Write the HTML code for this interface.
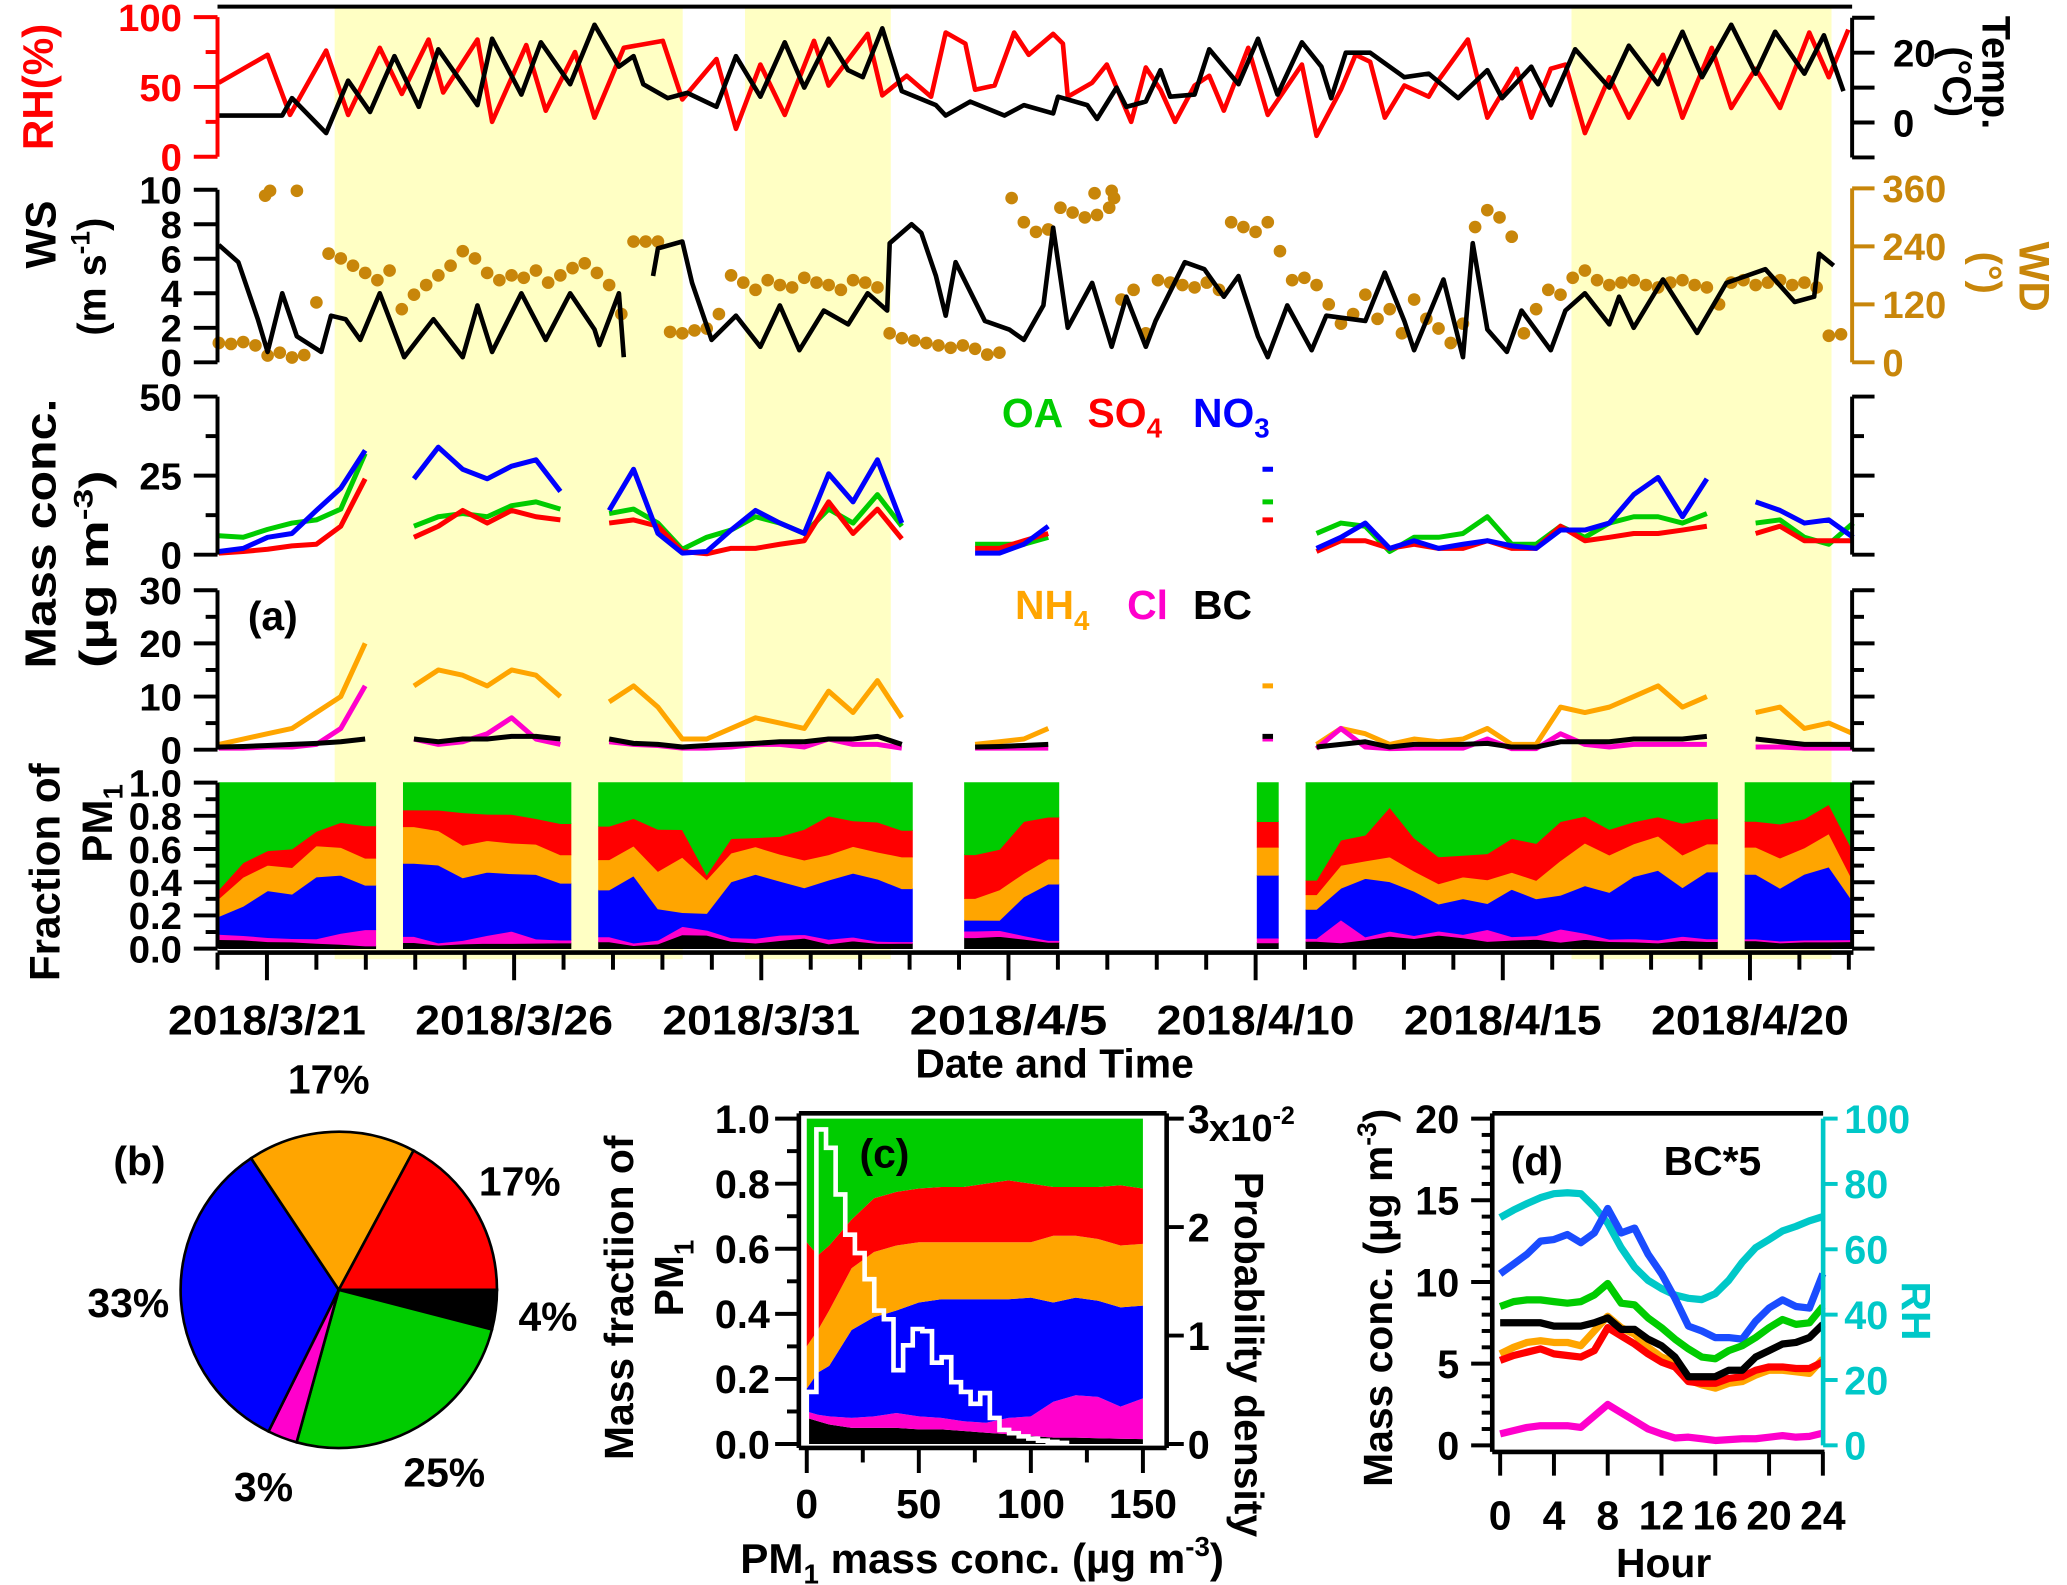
<!DOCTYPE html>
<html><head><meta charset="utf-8"><style>
html,body{margin:0;padding:0;background:#fff;}
svg{display:block;font-family:"Liberation Sans",Arial,sans-serif;font-weight:bold;}
</style></head><body>
<svg id="fig" width="2067" height="1585" viewBox="0 0 1568 1203" preserveAspectRatio="none" xmlns="http://www.w3.org/2000/svg">
<g id="shade"></g>
<g id="marks"></g>
<g id="axes" stroke="#000" stroke-width="3" fill="none"></g>
<g id="labels" font-size="29">
  <text transform="translate(40,66) rotate(-90)" text-anchor="middle" fill="#ff0000" font-size="32">RH(%)</text>
  <text transform="translate(1504,55) rotate(90)" text-anchor="middle" font-size="30">Temp.</text>
  <text transform="translate(1474,62) rotate(90)" text-anchor="middle" font-size="30">(°C)</text>
  <text transform="translate(42,178) rotate(-90)" text-anchor="middle" font-size="32">WS</text>
  <text transform="translate(80,210) rotate(-90)" text-anchor="middle" font-size="30">(m s<tspan font-size="20" dy="-12">-1</tspan><tspan dy="12">)</tspan></text>
  <text transform="translate(1532,210) rotate(90)" text-anchor="middle" fill="#c8860a" font-size="32">WD</text>
  <text transform="translate(1497,207) rotate(90)" text-anchor="middle" fill="#c8860a" font-size="30">(°)</text>
  <text transform="translate(42,405) rotate(-90)" text-anchor="middle" font-size="33" textLength="205" lengthAdjust="spacingAndGlyphs">Mass conc.</text>
  <text transform="translate(82,432) rotate(-90)" text-anchor="middle" font-size="31" textLength="150" lengthAdjust="spacingAndGlyphs">(µg m<tspan font-size="20" dy="-12">-3</tspan><tspan dy="12">)</tspan></text>
  <text transform="translate(45,662) rotate(-90)" text-anchor="middle" font-size="32">Fraction of</text>
  <text transform="translate(85,625) rotate(-90)" text-anchor="middle" font-size="32">PM<tspan font-size="21" dy="8">1</tspan></text>
  <text x="760" y="324" fill="#00cc00" font-size="31">OA</text>
  <text x="825" y="324" fill="#ff0000" font-size="31">SO<tspan font-size="21" dy="8">4</tspan></text>
  <text x="905" y="324" fill="#0000ff" font-size="31">NO<tspan font-size="21" dy="8">3</tspan></text>
  <text x="770" y="470" fill="#ffa500" font-size="31">NH<tspan font-size="21" dy="8">4</tspan></text>
  <text x="855" y="470" fill="#ff00cc" font-size="31">Cl</text>
  <text x="905" y="470" fill="#000" font-size="31">BC</text>
  <text x="188" y="478" font-size="31">(a)</text>
  <text x="800" y="818" text-anchor="middle" font-size="31">Date and Time</text>
  <text x="86" y="892" font-size="31">(b)</text>
  <text x="652" y="886" font-size="31">(c)</text>
  <text transform="translate(480,985) rotate(-90)" text-anchor="middle" font-size="31">Mass fractiion of</text>
  <text transform="translate(518,970) rotate(-90)" text-anchor="middle" font-size="31">PM<tspan font-size="21" dy="8">1</tspan></text>
  <text transform="translate(937,1028) rotate(90)" text-anchor="middle" font-size="31">Probability density</text>
  <text x="917" y="866" font-size="29">x10<tspan font-size="19" dy="-13">-2</tspan></text>
  <text x="745" y="1194" text-anchor="middle" font-size="32">PM<tspan font-size="21" dy="8">1</tspan><tspan dy="-8"> mass conc. (µg m</tspan><tspan font-size="21" dy="-13">-3</tspan><tspan dy="13">)</tspan></text>
  <text x="1146" y="892" font-size="31">(d)</text>
  <text x="1262" y="892" font-size="31">BC*5</text>
  <text transform="translate(1056,985) rotate(-90)" text-anchor="middle" font-size="31">Mass conc. (µg m<tspan font-size="20" dy="-12">-3</tspan><tspan dy="12">)</tspan></text>
  <text transform="translate(1443,995) rotate(90)" text-anchor="middle" fill="#00c8c8" font-size="31">RH</text>
  <text x="1262" y="1197" text-anchor="middle" font-size="31">Hour</text>
</g>
</svg>
<script>
const rhTime = [0,1,1.46,2.2,2.65,3.3,3.75,4.3,4.6,5.3,5.6,6.3,6.7,7.3,7.7,8.3,9.1,9.5,
 10.2,10.6,11.1,11.6,12.2,12.5,13.3,13.6,14.1,14.6,14.9,15.3,15.5,15.9,16.3,16.6,17.1,17.3,17.4,17.9,18.2,18.7,19.0,19.3,19.6,20.0,20.3,20.6,21.1,21.5,22.2,22.5,23.0,23.3,
 23.6,23.9,24.3,24.8,25.0,25.6,26.0,26.6,26.9,27.3,27.6,28.0,28.5,28.9,29.6,30.0,30.6,31.0,31.5,32.0,32.6,33.0,33.4];
const rhValues = [53,73,30,76,30,78,45,84,46,84,25,80,33,75,28,78,83,41,
 70,20,66,30,83,51,88,44,58,43,89,81,48,51,89,73,88,81,43,53,66,25,64,48,25,51,58,33,78,30,66,15,48,73,
 68,28,51,43,55,84,28,63,28,63,66,17,57,28,73,28,78,35,63,35,89,57,91];
const tempTime = [0,1.3,1.5,2.2,2.65,3.1,3.6,4.1,4.5,5.3,5.6,6.2,6.6,7.2,7.7,8.2,8.5,8.7,9.2,9.6,
 10.2,10.6,11.1,11.6,12.0,12.5,12.9,13.2,13.6,14.0,14.7,14.9,15.4,16.1,16.5,17.1,17.2,17.8,18.0,18.4,18.6,19.0,19.3,19.5,20.0,20.3,20.9,21.3,21.7,22.2,22.6,22.8,23.1,
 23.6,24.3,24.8,25.4,26.0,26.3,26.9,27.3,27.8,28.5,28.9,29.5,30.0,30.4,31.0,31.5,31.9,32.5,32.9,33.3];
const tempValues = [2,2,7,-3,12,3,19,4.5,21,5,24,8,23,11,28,16,19,11,7,8.5,
 4.5,19,7.4,23,10,24,15,13,27,9,5,2,6,2,5,2.6,7.4,5,1,10,4.5,6,15,7.4,8,21,11,24,8,23,16,7,20,
 20,13,14,7,15,7,16,5,21,10,22,11,26,13,28,14,26,14,25,9];
const wsTime = [0,0.4,0.8,1.0,1.3,1.6,2.1,2.3,2.6,2.9,3.3,3.8,4.4,5.0,5.3,5.6,6.2,6.7,7.2,7.7,7.8,8.2,8.3,8.6,8.9,9.0,9.5,9.7,10.1,10.6,
 11.1,11.5,11.9,12.4,12.9,13.3,13.7,13.75,14.2,14.4,14.7,14.9,15.1,15.7,16.2,16.5,16.9,17.1,17.4,17.9,18.3,18.6,19.0,19.2,19.8,20.2,20.6,20.9,21.3,21.5,
 21.9,22.4,22.7,23.5,23.9,24.3,24.5,25.1,25.5,25.7,26.0,26.4,26.7,27.3,27.6,28.0,28.5,28.7,29.0,29.6,30.3,30.9,31.7,32.3,32.7,32.8,33.1];
const wsValues = [6.8,5.8,2.5,0.6,4,1.5,0.6,2.7,2.5,1.3,4,0.3,2.5,0.3,3.3,0.6,4,1.3,4,1.9,1,4,0.3,null,5,6.6,7,4.6,1.3,2.7,
 0.9,3.3,0.7,3,2.2,4,3,6.9,8,7.5,5,2.7,5.8,2.4,1.9,1.3,3.3,7.8,2,4.6,0.9,3.8,0.9,2.4,5.8,5.4,3.8,5,1.5,0.3,
 3.3,0.7,2.7,2.4,5.2,2.4,0.7,4.8,0.3,6.9,1.9,0.6,3,0.7,3,4,2.2,3.8,2,4.8,1.7,4.6,5.4,3.5,3.8,6.3,5.6];
const wdStep = 0.25;
const wdValues = [40,38,42,35,14,20,10,15,124,225,215,200,185,170,190,110,140,160,180,200,230,215,185,170,180,175,190,165,180,195,205,185,160,100,250,250,250,63,60,66,
 70,100,180,165,150,170,160,155,175,165,160,150,170,165,155,60,50,45,40,35,30,35,28,16,20,340,290,270,275,320,310,300,305,320,130,150,60,170,165,160,
 155,165,150,290,280,270,290,230,170,175,160,120,80,100,140,90,110,60,130,90,70,40,80,280,315,300,260,60,110,150,140,175,190,170,160,165,170,160,155,165,
 170,160,155,120,165,170,160,165,170,160,165,155,55,58];
const wdExtraTime = [0.95,1.05,1.6,18.3,18.35,17.95];
const wdExtraValues = [345,355,355,355,340,350];
const aeroStep = 0.5;
const oaValues = [6,5.5,8,10,11,14.4,32,null,9,12,13,12,15.5,16.7,14.4,null,13,14.4,10,1.7,5.5,7.8,12,10,6.7,14.4,10,19,9,null,null,3.3,3.3,3.3,5.5,null,null,null,null,null,null,null,null,16.7,null,6.7,10,9,1,5.5,5.5,6.7,12,3.3,3.3,9,5.5,10,12,12,10,13,null,10,11,5.5,3.3,10];
const so4Values = [0.5,1,1.7,2.8,3.3,9,24,null,5.5,9,14,10,14,12,11,null,10,11,9,1,0.3,2,2,3.3,4.4,16.7,6.7,14.4,5,null,null,2,2,4.4,6.7,null,null,null,null,null,null,null,null,11,null,1,4.4,4.4,2,3.3,2,2,4.4,2,2,9,4.4,5.5,6.7,6.7,7.8,9,null,6.7,9,4.4,4.4,4.4];
const no3Values = [1,2,5.5,6.7,14,21,33,null,24,34,27,24,28,30,20,null,14,27,6.7,0.5,1,7.8,14,10,6.7,25.6,16.7,30,10,null,null,0.5,0.5,3.3,9,null,null,null,null,null,null,null,null,27,null,2,5.5,10,2,4.4,2,3.3,4.4,2.8,2,7.8,7.8,10,19,24.4,12,24,null,16.7,14,10,11,5.5];
const nh4Values = [1,2,3,4,7,10,20,null,12,15,14,12,15,14,10,null,9,12,8,2,2,4,6,5,4,11,7,13,6,null,null,1,1.5,2,4,null,null,null,null,null,null,null,null,12,null,1,4,3,1,2,1.5,2,4,1,1,8,7,8,10,12,8,10,null,7,8,4,5,3];
const clValues = [0.3,0.3,0.5,0.5,1,4,12,null,2,1,1.5,3,6,2,1,null,1.5,1,0.8,0.3,0.3,0.5,1,1,0.5,2,1,1,0.3,null,null,0.3,0.3,0.3,0.3,null,null,null,null,null,null,null,null,2,null,0.2,4,0.5,0.2,0.3,0.3,0.3,2,0.2,0.2,3,1,0.5,1,1,1,1,null,0.5,0.5,0.3,0.3,0.3];
const bcValues = [0.5,0.6,0.8,1,1.2,1.5,2,null,2,1.5,2,2,2.5,2.5,2,null,2,1.2,1,0.5,0.8,1,1.2,1.5,1.5,2,2,2.5,1,null,null,0.5,0.6,0.8,1,null,null,null,null,null,null,null,null,2.5,null,0.5,1,1.5,0.5,1,1,1,1.2,0.5,0.5,1.5,1.5,1.5,2,2,2,2.5,null,2,1.5,1,1,1];
const shadeStart = [2.37, 10.67, 27.39];
const shadeEnd = [9.41, 13.62, 32.65];
const dateTickDays = [1,6,11,16,21,26,31];
const dateTickLabels = ['2018/3/21','2018/3/26','2018/3/31','2018/4/5','2018/4/10','2018/4/15','2018/4/20'];
const pieLabels = ['BC','OA','Cl','NO3','NH4','SO4'];
const pieValues = [4,25,3,33,17,17];
const pmBins = [0,5,10,20,30,40,50,60,70,80,90,100,110,120,130,140,150];
const cBC  = [0.08,0.07,0.06,0.05,0.05,0.05,0.045,0.045,0.04,0.035,0.03,0.025,0.02,0.02,0.018,0.016,0.015];
const cCl  = [0.02,0.02,0.025,0.03,0.035,0.045,0.04,0.035,0.03,0.03,0.05,0.06,0.11,0.13,0.127,0.099,0.125];
const cNO3 = [0.07,0.13,0.155,0.27,0.305,0.315,0.35,0.365,0.375,0.38,0.365,0.365,0.305,0.3,0.295,0.305,0.285];
const cNH4 = [0.13,0.13,0.17,0.19,0.2,0.2,0.185,0.175,0.175,0.175,0.175,0.17,0.205,0.19,0.19,0.19,0.19];
const cSO4 = [0.32,0.23,0.2,0.15,0.165,0.165,0.165,0.17,0.17,0.18,0.19,0.18,0.15,0.15,0.16,0.185,0.17];
const histWidth = 4.3;
const histDensity = [0.48,2.9,2.73,2.3,1.93,1.76,1.52,1.23,1.15,0.68,0.91,1.06,1.04,0.75,0.8,0.57,0.48,0.37,0.47,0.24,0.13,0.1,0.07,0.05,0.03,0.02,0.01];
const hours = [0,1,2,3,4,5,6,7,8,9,10,11,12,13,14,15,16,17,18,19,20,21,22,23,24];
const dNO3 = [10.5,11.1,11.7,12.5,12.6,12.9,12.4,13,14.5,13,13.3,11.7,10.5,9,7.3,7,6.6,6.6,6.5,7.6,8.4,8.9,8.5,8.4,10.5];
const dOA  = [8.5,8.8,8.9,8.9,8.8,8.7,8.8,9.2,9.9,8.7,8.6,7.8,7.2,6.5,5.9,5.4,5.3,5.8,6.1,6.6,7.2,7.7,7.4,7.5,8.5];
const dBC5 = [7.5,7.5,7.5,7.5,7.3,7.3,7.3,7.5,7.8,7.1,7.1,6.5,6.1,5.4,4.2,4.2,4.2,4.6,4.6,5.4,5.8,6.2,6.3,6.6,7.4];
const dNH4 = [5.6,6,6.3,6.4,6.3,6.3,6.1,7,7.9,7.2,6.8,6,5.4,5.1,4,3.7,3.5,3.8,3.9,4.3,4.6,4.6,4.5,4.4,5.3];
const dSO4 = [5.2,5.5,5.7,5.9,5.6,5.5,5.4,5.8,7.2,6.7,6.2,5.6,5.1,4.8,3.9,3.8,3.8,4.1,4.2,4.6,4.8,4.8,4.7,4.7,5.1];
const dCl  = [0.7,0.9,1.1,1.2,1.2,1.2,1.1,1.8,2.5,2,1.5,1,0.7,0.45,0.5,0.4,0.3,0.35,0.4,0.4,0.5,0.6,0.5,0.55,0.75];
const dRH  = [69.7,72,74,75.8,77,77.3,77,73,68,60.5,54.5,50.5,48,46,45,44.6,46.4,50.5,56,60.5,63,65.6,67,68.7,70];

const NS = 'http://www.w3.org/2000/svg';
function mk(tag, attrs, parent) {
  const e = document.createElementNS(NS, tag);
  for (const k in attrs) e.setAttribute(k, attrs[k]);
  parent.appendChild(e);
  return e;
}
const gShade = document.getElementById('shade');
const gMarks = document.getElementById('marks');
const gAxes = document.getElementById('axes');
const gLab = document.getElementById('labels');

const X = t => 166 + 37.01 * t;
const xDay = d => 165 + 37.5 * d;
const yRH = v => 119 - v * 1.06;
const yT = v => 93 - v * 2.65;
const yWS = v => 275 - v * 13.1;
const yWD = v => 275 - v * (132 / 360);
const yUp = v => 421 - v * 2.4;
const yLo = v => 569 - v * (121 / 30);
const yFr = v => 720 - v * 126;

function linePath(ts, vs, xf, yf) {
  let d = '', pen = false;
  for (let i = 0; i < vs.length; i++) {
    const v = vs[i];
    if (v === null || v === undefined) { pen = false; continue; }
    const x = xf(ts[i]), y = yf(v);
    const nextNull = (i + 1 >= vs.length) || vs[i + 1] === null;
    if (!pen && nextNull) { d += `M${(x-4).toFixed(1)},${y.toFixed(1)}L${(x+4).toFixed(1)},${y.toFixed(1)}`; continue; }
    d += (pen ? 'L' : 'M') + x.toFixed(1) + ',' + y.toFixed(1);
    pen = true;
  }
  return d;
}

for (let i = 0; i < shadeStart.length; i++) {
  const r = mk('rect', {x: xDay(shadeStart[i]), y: 6, width: xDay(shadeEnd[i]) - xDay(shadeStart[i]), height: 722, fill: '#ffffc4'}, gShade);
  
  
}

const rhLine = mk('path', {d: linePath(rhTime, rhValues, X, yRH), stroke: '#ff0000', 'stroke-width': 3.5, fill: 'none', 'stroke-linejoin': 'round'}, gMarks);


const tLine = mk('path', {d: linePath(tempTime, tempValues, X, yT), stroke: '#000', 'stroke-width': 3.5, fill: 'none', 'stroke-linejoin': 'round'}, gMarks);



const wdGroup = mk('g', {fill: '#c8860a'}, gMarks);


for (let i = 0; i < wdValues.length; i++) {
  const c = mk('circle', {cx: X(i * wdStep), cy: yWD(wdValues[i]), r: 4.8}, wdGroup);
  
  
}
for (let i = 0; i < wdExtraValues.length; i++) {
  const c = mk('circle', {cx: X(wdExtraTime[i]), cy: yWD(wdExtraValues[i]), r: 4.8}, wdGroup);
  
  
}
const wsLine = mk('path', {d: linePath(wsTime, wsValues, X, yWS), stroke: '#000', 'stroke-width': 3.5, fill: 'none', 'stroke-linejoin': 'round'}, gMarks);



const aeroTime = oaValues.map((_, i) => i * aeroStep);
const upperSeries = [[oaValues, '#00cc00', 'oa-line'], [so4Values, '#ff0000', 'so4-line'], [no3Values, '#0000ff', 'no3-line']];
for (const s of upperSeries) {
  const p = mk('path', {d: linePath(aeroTime, s[0], X, yUp), stroke: s[1], 'stroke-width': 3.8, fill: 'none', 'stroke-linejoin': 'round'}, gMarks);
  
  
}
const lowerSeries = [[nh4Values, '#ffa500', 'nh4-line'], [clValues, '#ff00cc', 'cl-line'], [bcValues, '#000', 'bc-line']];
for (const s of lowerSeries) {
  const p = mk('path', {d: linePath(aeroTime, s[0], X, yLo), stroke: s[1], 'stroke-width': 3.8, fill: 'none', 'stroke-linejoin': 'round'}, gMarks);
  
  
}

const fracSpecies = [[bcValues, '#000', 'fraction-bc'], [clValues, '#ff00cc', 'fraction-cl'], [no3Values, '#0000ff', 'fraction-no3'], [nh4Values, '#ffa500', 'fraction-nh4'], [so4Values, '#ff0000', 'fraction-so4'], [oaValues, '#00cc00', 'fraction-oa']];
let runs = [], cur = null;
for (let i = 0; i < oaValues.length; i++) {
  if (oaValues[i] === null) { if (cur) { runs.push(cur); cur = null; } continue; }
  if (!cur) cur = [];
  cur.push(i);
}
if (cur) runs.push(cur);
for (const run of runs) {
  const pts = [];
  for (const i of run) {
    const tot = fracSpecies.reduce((a, s) => a + s[0][i], 0);
    let acc = 0;
    const c = [0];
    for (const s of fracSpecies) { acc += s[0][i] / tot; c.push(acc); }
    pts.push({x: X(aeroTime[i]), c: c});
  }
  const ext = [{x: Math.max(166, pts[0].x - 8), c: pts[0].c}].concat(pts, [{x: Math.min(1404, pts[pts.length - 1].x + 8), c: pts[pts.length - 1].c}]);
  for (let k = 0; k < fracSpecies.length; k++) {
    let d = '';
    ext.forEach((p, j) => { d += (j ? 'L' : 'M') + p.x.toFixed(1) + ',' + yFr(p.c[k + 1]).toFixed(1); });
    for (let j = ext.length - 1; j >= 0; j--) d += 'L' + ext[j].x.toFixed(1) + ',' + yFr(ext[j].c[k]).toFixed(1);
    const poly = mk('path', {d: d + 'Z', fill: fracSpecies[k][1], stroke: fracSpecies[k][1], 'stroke-width': 0.6}, gMarks);
    
    
  }
}

function line(x1, y1, x2, y2, color, w, parent) {
  return mk('line', {x1, y1, x2, y2, stroke: color || '#000', 'stroke-width': w || 3}, parent || gAxes);
}
function txt(x, y, s, anchor, color, size) {
  const t = mk('text', {x, y, 'text-anchor': anchor || 'end', fill: color || '#000', 'font-size': size || 29, 'dominant-baseline': 'central'}, gLab);
  t.textContent = s;
  return t;
}
const topLine = line(165, 5, 1405, 5, '#000', 3);



function leftAxis(name, y0, y1, ticks, majors, yf, color, fmt) {
  const g = mk('g', {}, gAxes);
  
  
  line(165, y0, 165, y1, color, 3, g);
  for (const v of ticks) {
    const isMaj = majors.includes(v);
    line(isMaj ? 147 : 156, yf(v), 165, yf(v), color, 3, g);
    if (isMaj) { const t = txt(138, yf(v) + 1, fmt ? fmt(v) : String(v), 'end', color);   }
  }
}
function rightAxis(name, y0, y1, ticks, majors, yf, color, fmt, lx) {
  const g = mk('g', {}, gAxes);
  
  
  line(1405, y0, 1405, y1, color, 3, g);
  for (const v of ticks) {
    const isMaj = majors.includes(v);
    line(1405, yf(v), isMaj ? 1422 : 1414, yf(v), color, 3, g);
    if (isMaj && fmt) { const t = txt(lx || 1428, yf(v) + 1, fmt(v), 'start', color);   }
  }
}
const rhTicks = [0, 25, 50, 75, 100];
leftAxis('rh-axis', yRH(0), yRH(100), rhTicks, [0, 50, 100], yRH, '#ff0000');
const tTicks = [-10, 0, 10, 20, 30];
rightAxis('temp-axis', yT(-10), yT(30), tTicks, [-10, 0, 10, 20, 30], yT, '#000', v => (v === 0 || v === 20) ? String(v) : '', 1436);
const wsTicks = [0, 2, 4, 6, 8, 10];
leftAxis('ws-axis', yWS(0), yWS(10), wsTicks, wsTicks, yWS, '#000');
const wdTicks = [0, 120, 240, 360];
rightAxis('wd-axis', yWD(0), yWD(360), wdTicks, wdTicks, yWD, '#c8860a', v => String(v), 1428);
const upTicks = [0, 12.5, 25, 37.5, 50];
leftAxis('mass-upper-axis', yUp(0), yUp(50), upTicks, [0, 25, 50], yUp, '#000');
rightAxis('mass-upper-right-axis', yUp(0), yUp(50), upTicks, [0, 25, 50], yUp, '#000', null);
const loTicks = [0, 5, 10, 15, 20, 25, 30];
leftAxis('mass-lower-axis', yLo(0), yLo(30), loTicks, [0, 10, 20, 30], yLo, '#000');
rightAxis('mass-lower-right-axis', yLo(0), yLo(30), loTicks, [0, 10, 20, 30], yLo, '#000', null);
const frTicks = [0, 0.1, 0.2, 0.3, 0.4, 0.5, 0.6, 0.7, 0.8, 0.9, 1.0];
leftAxis('fraction-axis', yFr(0), yFr(1), frTicks, [0, 0.2, 0.4, 0.6, 0.8, 1.0], yFr, '#000', v => v.toFixed(1));
rightAxis('fraction-right-axis', yFr(0), yFr(1), frTicks, [0, 0.2, 0.4, 0.6, 0.8, 1.0], yFr, '#000', null);

const xg = mk('g', {}, gAxes);


line(165, 723, 1406, 723, '#000', 3.5, xg);
for (let d = 0; d <= 33; d++) line(xDay(d), 723, xDay(d), dateTickDays.includes(d) ? 744 : 736, '#000', 3, xg);
for (let i = 0; i < dateTickDays.length; i++) {
  const t = mk('text', {x: xDay(dateTickDays[i]), y: 785, 'text-anchor': 'middle', 'font-size': 32, textLength: 150, lengthAdjust: 'spacingAndGlyphs'}, gLab);
  t.textContent = dateTickLabels[i];
  
  
}

const pcx = 257, pcy = 979, pr = 120;
const pieColors = ['#000', '#00cc00', '#ff00cc', '#0000ff', '#ffa500', '#ff0000'];
const pieTotal = pieValues.reduce((a, b) => a + b, 0);
let ang = 0;
for (let i = 0; i < pieValues.length; i++) {
  const a0 = ang, a1 = ang + pieValues[i] / pieTotal * 2 * Math.PI;
  ang = a1;
  const x0 = pcx + pr * Math.cos(a0), y0 = pcy + pr * Math.sin(a0);
  const x1 = pcx + pr * Math.cos(a1), y1 = pcy + pr * Math.sin(a1);
  const large = (a1 - a0) > Math.PI ? 1 : 0;
  const sl = mk('path', {d: `M${pcx},${pcy}L${x0.toFixed(1)},${y0.toFixed(1)}A${pr},${pr} 0 ${large} 1 ${x1.toFixed(1)},${y1.toFixed(1)}Z`, fill: pieColors[i], stroke: '#000', 'stroke-width': 2}, gMarks);
  
  
  const mid = (a0 + a1) / 2;
  const lr = pr + 40;
  const lt = mk('text', {x: pcx + lr * Math.cos(mid), y: pcy + lr * Math.sin(mid), 'text-anchor': 'middle', 'dominant-baseline': 'central', 'font-size': 31}, gLab);
  lt.textContent = pieValues[i] + '%';
  
  
}

const cx = v => 612 + v * 1.7;
const cy = v => 1096 - v * 247;
const cy2 = v => 1096 - v * (247 / 3);
const cSpecies = [[cBC, '#000', 'c-area-bc'], [cCl, '#ff00cc', 'c-area-cl'], [cNO3, '#0000ff', 'c-area-no3'], [cNH4, '#ffa500', 'c-area-nh4'], [cSO4, '#ff0000', 'c-area-so4']];
const cum = [pmBins.map(() => 0)];
for (const s of cSpecies) cum.push(cum[cum.length - 1].map((v, i) => v + s[0][i]));
cum.push(pmBins.map(() => 1));
const cColors = cSpecies.map(s => s[1]).concat(['#00cc00']);
const cNames = cSpecies.map(s => s[2]).concat(['c-area-oa']);
for (let k = 0; k < 6; k++) {
  let d = '';
  pmBins.forEach((b, i) => { d += (i ? 'L' : 'M') + cx(b).toFixed(1) + ',' + cy(cum[k + 1][i]).toFixed(1); });
  for (let i = pmBins.length - 1; i >= 0; i--) d += 'L' + cx(pmBins[i]).toFixed(1) + ',' + cy(cum[k][i]).toFixed(1);
  const a = mk('path', {d: d + 'Z', fill: cColors[k]}, gMarks);
  
  
}
let hd = 'M' + cx(0) + ',' + cy2(0);
histDensity.forEach((v, i) => { hd += 'L' + cx(i * histWidth).toFixed(1) + ',' + cy2(v).toFixed(1) + 'L' + cx((i + 1) * histWidth).toFixed(1) + ',' + cy2(v).toFixed(1); });
hd += 'L' + cx(histDensity.length * histWidth).toFixed(1) + ',' + cy2(0);
const hist = mk('path', {d: hd, fill: 'none', stroke: '#fff', 'stroke-width': 3.5}, gMarks);


const cg = mk('g', {}, gAxes);


line(606, 845, 885, 845, '#000', 3.5, cg);
line(606, 845, 606, 1099, '#000', 3.5, cg);
line(606, 1099, 885, 1099, '#000', 3.5, cg);
line(885, 845, 885, 1099, '#000', 3.5, cg);
const cYTicks = [0, 0.1, 0.2, 0.3, 0.4, 0.5, 0.6, 0.7, 0.8, 0.9, 1.0];
for (const v of cYTicks) {
  const maj = Math.round(v * 10) % 2 === 0;
  line(maj ? 588 : 597, cy(v), 606, cy(v), '#000', 3, cg);
  if (maj) { const t = txt(584, cy(v) + 1, v.toFixed(1), 'end', '#000', 30);   }
}
const cY2Ticks = [0, 1, 2, 3];
for (const v of cY2Ticks) {
  line(885, cy2(v), 898, cy2(v), '#000', 3, cg);
  const t = txt(901, cy2(v) + 1, String(v), 'start', '#000', 30);
  
  
}
const cXTicks = [0, 25, 50, 75, 100, 125, 150];
for (const v of cXTicks) {
  const maj = v % 50 === 0;
  line(cx(v), 1099, cx(v), maj ? 1118 : 1110, '#000', 3, cg);
  if (maj) { const t = mk('text', {x: cx(v), y: 1152, 'text-anchor': 'middle', 'font-size': 31}, gLab); t.textContent = String(v);   }
}

const dx = h => 1138 + h * 10.2;
const dy = v => 1097 - v * 12.4;
const dyRH = v => 1097 - v * 2.48;
const dSeries = [[dRH, '#00c8c8', 'd-rh-line', dyRH], [dNO3, '#1a4cff', 'd-no3-line', dy], [dOA, '#00cc00', 'd-oa-line', dy], [dNH4, '#ffa500', 'd-nh4-line', dy], [dSO4, '#ff0000', 'd-so4-line', dy], [dBC5, '#000', 'd-bc5-line', dy], [dCl, '#ff00cc', 'd-cl-line', dy]];
for (const s of dSeries) {
  const p = mk('path', {d: linePath(hours, s[0], dx, s[3]), stroke: s[1], 'stroke-width': 5.5, fill: 'none', 'stroke-linejoin': 'round'}, gMarks);
  
  
}
const dg = mk('g', {}, gAxes);


line(1132, 845, 1383, 845, '#000', 3.5, dg);
line(1132, 845, 1132, 1102, '#000', 3.5, dg);
line(1132, 1102, 1384, 1102, '#000', 3.5, dg);
line(1383, 849, 1383, 1097, '#00c8c8', 3.5, dg);
for (let v = 0; v <= 20; v++) {
  const maj = v % 5 === 0;
  line(maj ? 1116 : 1124, dy(v), 1132, dy(v), '#000', 3, dg);
  if (maj) { const t = txt(1107, dy(v) + 1, String(v), 'end', '#000', 30);   }
}
const dRHTicks = [0, 20, 40, 60, 80, 100];
for (const v of dRHTicks) {
  line(1383, dyRH(v), 1394, dyRH(v), '#00c8c8', 3, dg);
  const t = txt(1399, dyRH(v) + 1, String(v), 'start', '#00c8c8', 30);
  
  
}
const dXTicks = [0, 4, 8, 12, 16, 20, 24];
for (const h of dXTicks) {
  line(dx(h), 1102, dx(h), 1120, '#000', 3, dg);
  const t = mk('text', {x: dx(h), y: 1161, 'text-anchor': 'middle', 'font-size': 31}, gLab);
  t.textContent = String(h);
  
  
}
</script>
</body></html>
